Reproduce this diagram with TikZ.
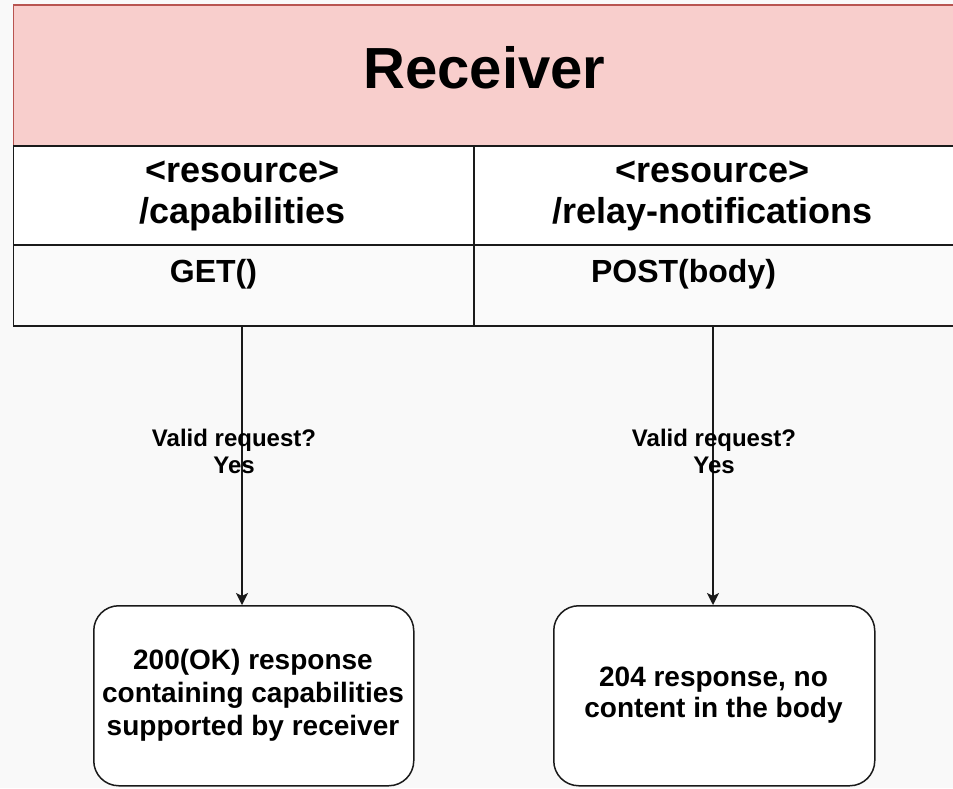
\documentclass[tikz,border=0pt]{standalone}
\usepackage{fontspec}
\setmainfont{Liberation Sans}
\usetikzlibrary{arrows.meta}
\definecolor{bgcol}{HTML}{F9F9F9}
\definecolor{hdrfill}{HTML}{F8CECC}
\definecolor{hdrline}{HTML}{B85450}
\definecolor{rowgray}{HTML}{FAFAFA}
\definecolor{ink}{HTML}{1A1A1A}
\newcommand{\fsz}[2]{\fontsize{#1}{#2}\selectfont\bfseries}
\begin{document}
\begin{tikzpicture}[x=1pt,y=-1pt,
  cell/.style={draw=ink,line width=1.6pt,inner sep=0pt,anchor=north west},
  resp/.style={draw=ink,line width=1.5pt,fill=white,rounded corners=25pt,
               inner sep=0pt,anchor=north west},
  % multi-line texts are placed by the baseline of their last line
  txt/.style={inner sep=0pt,anchor=base,align=center,text=black},
  flow/.style={draw=ink,line width=1.5pt,
               -{Stealth[length=12pt,width=12pt,inset=3pt]}}]
  % page
  \fill[bgcol] (0,0) rectangle (953,788);
  \useasboundingbox (0,0) rectangle (953,788);

  % class header
  \node[draw=hdrline,line width=1.6pt,fill=hdrfill,inner sep=0pt,anchor=north west,
        minimum width=942pt,minimum height=141pt] (hdr) at (12.5,4) {};
  \node[txt,font=\fsz{58}{66}] (title) at (484.5,88) {Receiver};

  % resource row
  \node[cell,fill=white,minimum width=460.5pt,minimum height=99pt] (resl) at (12.5,145) {};
  \node[cell,fill=white,minimum width=481pt,minimum height=99pt] (resr) at (473,145) {};
  \node[txt,font=\fsz{36}{41}] (resltxt) at (242.5,223) {<resource>\\/capabilities};
  \node[txt,font=\fsz{36}{41}] (resrtxt) at (712.5,223) {<resource>\\/relay-notifications};

  % method row
  \node[cell,fill=rowgray,minimum width=460.5pt,minimum height=81pt] (getl) at (12.5,244) {};
  \node[cell,fill=rowgray,minimum width=481pt,minimum height=81pt] (postr) at (473,244) {};
  \node[txt,font=\fsz{32}{38}] (gettxt) at (213.5,282) {GET()};
  \node[txt,font=\fsz{32}{38}] (posttxt) at (683.5,282) {POST(body)};

  % responses
  \node[resp,minimum width=320pt,minimum height=180pt] (okbox) at (93,605) {};
  \node[resp,minimum width=321pt,minimum height=180pt] (nobox) at (553,605) {};
  \node[txt,font=\fsz{28}{33}] (oktxt) at (253,735)
    {200(OK) response\\containing capabilities\\supported by receiver};
  \node[txt,font=\fsz{28}{31}] (notxt) at (713.5,717)
    {204 response, no\\content in the body};

  % request flows
  \draw[flow] (getl.south -| 242,0) -- (okbox.north -| 242,0);
  \draw[flow] (postr.south -| 713,0) -- (nobox.north -| 713,0);
  \node[txt,font=\fsz{24}{27.5}] (okcond) at (234,473.5) {Valid request?\\Yes};
  \node[txt,font=\fsz{24}{27.5}] (nocond) at (714,473.5) {Valid request?\\Yes};
\end{tikzpicture}
\end{document}
